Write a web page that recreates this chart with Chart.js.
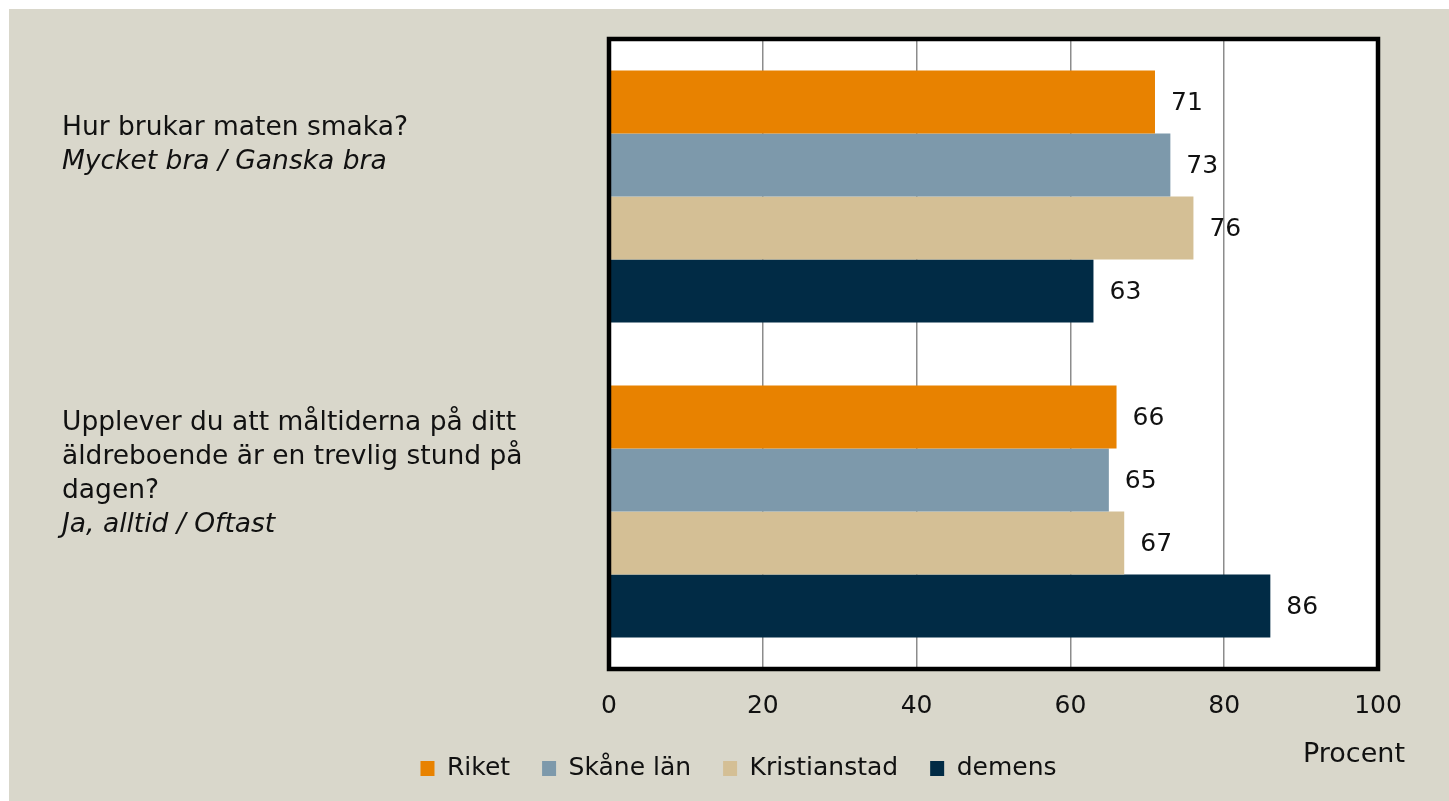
<!DOCTYPE html>
<html>
<head>
<meta charset="utf-8">
<script src="https://cdn.jsdelivr.net/npm/chart.js@4"></script>
<style>
    html, body { margin: 0; padding: 0; background: #ffffff; }
    #wrap { position: absolute; left: 9px; top: 9px; width: 1440px; height: 792px; background: #d9d7cb; }
</style>
</head>
<body>
<div id="wrap"><canvas id="chart" width="1440" height="792"></canvas></div>
<script>
// Données
const categories = ['q1', 'q2'];
const seriesNames = ['Riket', 'Skåne län', 'Kristianstad', 'demens'];
const riket = [71, 66];
const skane = [73, 65];
const kristianstad = [76, 67];
const demens = [63, 86];
const seriesColors = ['#e88200', '#7d99ab', '#d4bf95', '#012b45'];

// libellés des questions (ligne, italique ?)
const questionLines = [
    [['Hur brukar maten smaka?', false], ['Mycket bra / Ganska bra', true]],
    [['Upplever du att måltiderna på ditt', false], ['äldreboende är en trevlig stund på', false], ['dagen?', false], ['Ja, alltid / Oftast', true]]
];
const xTicks = [0, 20, 40, 60, 80, 100];
const xTitle = 'Procent';

const FONT = '"DejaVu Sans", sans-serif';

// -----------------------------------------------------------------------------
// plugins
// -----------------------------------------------------------------------------

const plotFrame = {
    id: 'plotFrame',
    beforeDraw(chart) {
        const { ctx, chartArea: a } = chart;
        ctx.save();
        ctx.fillStyle = '#ffffff';
        ctx.fillRect(a.left, a.top, a.right - a.left, a.bottom - a.top);
        ctx.restore();
    },
    afterDatasetsDraw(chart) {
        const { ctx, chartArea: a } = chart;
        ctx.save();
        ctx.strokeStyle = '#000000';
        ctx.lineWidth = 4.5;
        ctx.strokeRect(a.left, a.top, a.right - a.left, a.bottom - a.top);

        // valeurs au bout des barres
        ctx.fillStyle = '#111111';
        ctx.font = '25px ' + FONT;
        ctx.textAlign = 'left';
        ctx.textBaseline = 'middle';
        chart.data.datasets.forEach((ds, i) => {
            chart.getDatasetMeta(i).data.forEach((bar, j) => {
                ctx.fillText(String(ds.data[j]), bar.x + 16, bar.y + 1);
            });
        });

        // questions à gauche
        const y = chart.scales.y;
        const firstLineOffset = [-68, -88];
        questionLines.forEach((lines, c) => {
            const cy = y.getPixelForValue(c);
            lines.forEach((ln, k) => {
                ctx.font = (ln[1] ? 'italic ' : '') + '26.5px ' + FONT;
                ctx.fillText(ln[0], 53, cy + firstLineOffset[c] + k * 34);
            });
        });

        // titre de l'axe
        ctx.font = '27px ' + FONT;
        ctx.textAlign = 'right';
        ctx.fillText(xTitle, 1396, 746);
        ctx.restore();
    }
};

// -----------------------------------------------------------------------------
// graphique
// -----------------------------------------------------------------------------

const datasets = [riket, skane, kristianstad, demens].map((vals, i) => ({
    label: seriesNames[i],
    data: vals,
    backgroundColor: seriesColors[i],
    borderWidth: 0,
    categoryPercentage: 0.8,
    barPercentage: 1.0
}));

new Chart(document.getElementById('chart'), {
    type: 'bar',
    data: { labels: categories, datasets },
    options: {
        indexAxis: 'y',
        responsive: false,
        animation: false,
        layout: { padding: { left: 90, right: 71, top: 30, bottom: 10 } },
        plugins: {
            tooltip: { enabled: false },
            legend: {
                position: 'bottom',
                labels: {
                    color: '#111111',
                    font: { family: FONT, size: 25 },
                    boxWidth: 14,
                    boxHeight: 15,
                    padding: 32
                }
            }
        },
        scales: {
            x: {
                min: 0,
                max: 100,
                afterBuildTicks: s => { s.ticks = xTicks.map(v => ({ value: v })); },
                afterFit: s => { s.height = 55; },
                grid: { color: '#8c8c8c', lineWidth: 1.5, drawTicks: false },
                border: { display: false },
                ticks: { color: '#111111', font: { family: FONT, size: 25 }, padding: 22 }
            },
            y: {
                afterFit: s => { s.width = 510; },
                grid: { display: false },
                border: { display: false },
                ticks: { display: false }
            }
        }
    },
    plugins: [plotFrame]
});
</script>
</body>
</html>
